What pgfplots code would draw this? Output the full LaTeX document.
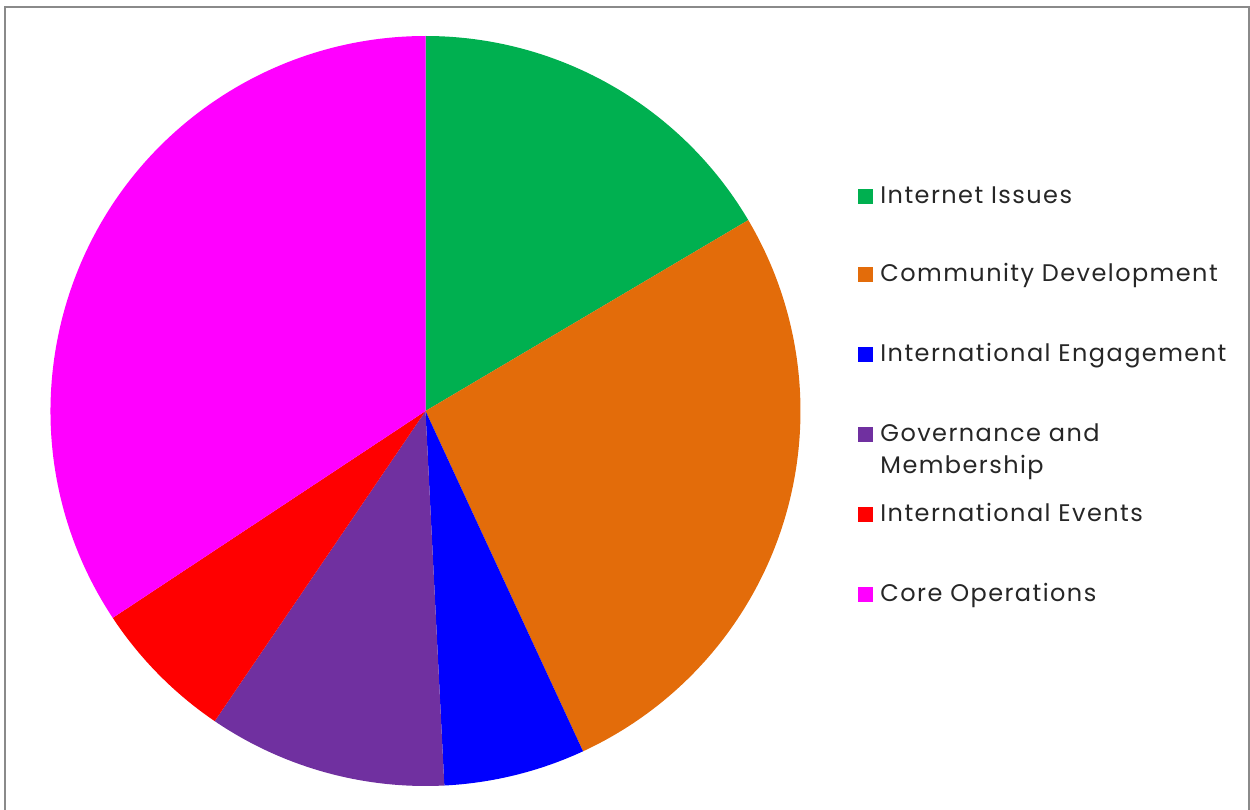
\documentclass[border=0pt]{standalone}
\usepackage{pgfplots}
\pgfplotsset{compat=1.18}
\usepackage{fontspec}
\setmainfont{Poppins}[LetterSpace=6]
\definecolor{cgreen}{RGB}{0,176,80}
\definecolor{corange}{RGB}{227,108,10}
\definecolor{cblue}{RGB}{0,0,255}
\definecolor{cpurple}{RGB}{112,48,160}
\definecolor{cred}{RGB}{255,0,0}
\definecolor{cmagenta}{RGB}{255,0,255}
\definecolor{bordergray}{RGB}{138,138,138}
\begin{document}
\begin{tikzpicture}
\path[use as bounding box] (0,0) rectangle (625pt,405pt);
\begin{axis}[
  at={(0,0)}, anchor=south west,
  scale only axis, width=625pt, height=405pt,
  xmin=0, xmax=1250, ymin=0, ymax=810,
  hide axis, clip=false,
]
% pie shares in percent, clockwise from 12 o'clock
\gdef\startang{90}
\foreach \v/\c in {16.5/cgreen, 26.6/corange, 6.1/cblue, 10.3/cpurple, 6.2/cred, 34.3/cmagenta} {
  \pgfmathsetmacro\endang{\startang - 3.6*\v}
  \edef\temp{\noexpand\fill[\c] (axis cs:425.5,399) -- ++(\startang:187.5pt) arc[start angle=\startang, end angle=\endang, radius=187.5pt] -- cycle;}
  \temp
  \global\let\startang\endang
}
% legend
\foreach \c/\t/\yb in {cgreen/Internet Issues/606, corange/Community Development/528, cblue/International Engagement/448, cpurple/Governance and/368, cred/International Events/288, cmagenta/Core Operations/208} {
  \edef\temp{\noexpand\fill[\c] (axis cs:858,\yb) rectangle (axis cs:873,\yb+15);}
  \temp
  \edef\temp{\noexpand\node[anchor=base west, inner sep=0pt, font=\noexpand\fontsize{12pt}{14pt}\noexpand\selectfont, text=black!85] at (axis cs:880,\yb) {\t};}
  \temp
}
\node[anchor=base west, inner sep=0pt, font=\fontsize{12pt}{14pt}\selectfont, text=black!85] at (axis cs:880,336) {Membership};
% frame
\draw[line width=1pt, bordergray] (axis cs:5.3,-10) -- (axis cs:5.3,803) -- (axis cs:1249,803) -- (axis cs:1249,-10);
\end{axis}
\end{tikzpicture}
\end{document}
